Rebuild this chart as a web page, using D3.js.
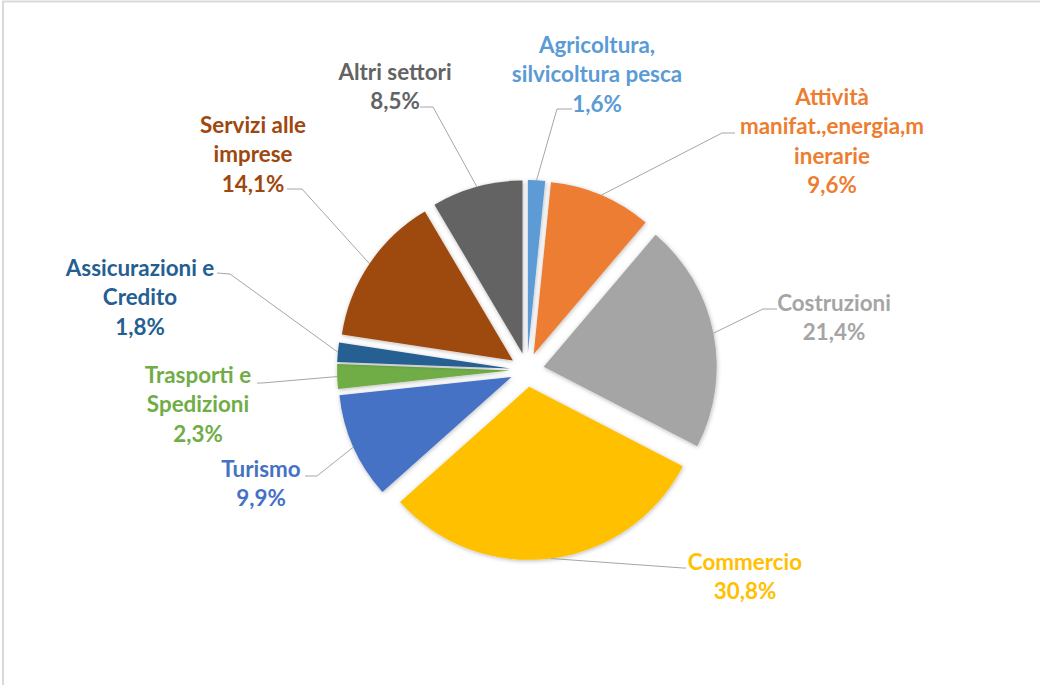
<!DOCTYPE html>
<html>
<head>
<meta charset="utf-8">
<script src="https://cdn.jsdelivr.net/npm/d3@7"></script>
<style>
  html, body { margin: 0; padding: 0; background: #fff; }
  svg { display: block; }
  text { font-family: "Liberation Sans Narrow", Lato, "Noto Sans", sans-serif; font-weight: 700; }
</style>
</head>
<body>
<svg id="chart" width="1040" height="685"></svg>
<script>
// ---- data ----
const categories = [
  "Agricoltura,\nsilvicoltura pesca",
  "Attività\nmanifat.,energia,m\ninerarie",
  "Costruzioni",
  "Commercio",
  "Turismo",
  "Trasporti e\nSpedizioni",
  "Assicurazioni e\nCredito",
  "Servizi alle\nimprese",
  "Altri settori"
];
const values = [1.6, 9.6, 21.4, 30.8, 9.9, 2.3, 1.8, 14.1, 8.5];
const colors = ["#5B9BD5", "#ED7D31", "#A5A5A5", "#FFC000", "#4472C4", "#70AD47", "#255E91", "#9E480E", "#636363"];

// ---- layout (label anchors: centre x, first line y; leader elbow; leader end) ----
const labelPos = [
  {x: 597, y: 45,  elbow: [557, 109], end: [572, 109]},
  {x: 832, y: 97,  elbow: [722, 133], end: [735, 133]},
  {x: 834, y: 303, elbow: [763, 309], end: [777, 309]},
  {x: 745, y: 562, elbow: [683, 568], end: [686, 568]},
  {x: 261, y: 469, elbow: [317, 476], end: [305, 476]},
  {x: 198, y: 375, elbow: [262, 383], end: [257, 383]},
  {x: 140, y: 268, elbow: [230, 274], end: [217, 273]},
  {x: 253, y: 125, elbow: [302, 189], end: [287, 189]},
  {x: 395, y: 72,  elbow: [433, 107], end: [420, 107]}
];

const cx = 527, cy = 370, R = 173, explode = 17, lineH = 29.5;

const svg = d3.select("#chart");

// frame
svg.append("rect").attr("x", 3).attr("y", 1.5).attr("width", 1200).attr("height", 900)
  .attr("fill", "none").attr("stroke", "#d9d9d9").attr("stroke-width", 2);

const defs = svg.append("defs");
const f = defs.append("filter").attr("id", "sh").attr("x", "-20%").attr("y", "-20%").attr("width", "140%").attr("height", "140%");
f.append("feDropShadow").attr("dx", 0.5).attr("dy", 1).attr("stdDeviation", 2)
  .attr("flood-color", "#000").attr("flood-opacity", 0.28);

const data = categories.map((c, i) => ({name: c, value: values[i], color: colors[i], pos: labelPos[i]}));
const pie = d3.pie().value(d => d.value).sort(null);
const arcs = pie(data);
const arc = d3.arc().innerRadius(0).outerRadius(R);

const dirOf = a => [Math.sin(a), -Math.cos(a)];

const g = svg.append("g").attr("transform", `translate(${cx},${cy})`);

g.selectAll("path.slice").data(arcs).enter().append("path")
  .attr("class", "slice")
  .attr("d", arc)
  .attr("fill", d => d.data.color)
  .attr("filter", "url(#sh)")
  .attr("transform", d => {
    const m = (d.startAngle + d.endAngle) / 2;
    const [dx, dy] = dirOf(m);
    return `translate(${dx * explode},${dy * explode})`;
  });

// leader lines
svg.selectAll("polyline.leader").data(arcs).enter().append("polyline")
  .attr("class", "leader")
  .attr("fill", "none").attr("stroke", "#a6a6a6").attr("stroke-width", 1)
  .attr("points", d => {
    const m = (d.startAngle + d.endAngle) / 2;
    const [dx, dy] = dirOf(m);
    const sx = cx + dx * (explode + R), sy = cy + dy * (explode + R);
    const p = d.data.pos;
    return [[sx, sy], p.elbow, p.end].map(q => q.join(",")).join(" ");
  });

// labels
const fmt = v => v.toFixed(1).replace(".", ",") + "%";
const lbl = svg.selectAll("text.lbl").data(arcs).enter().append("text")
  .attr("class", "lbl")
  .attr("text-anchor", "middle")
  .attr("fill", d => d.data.color)
  .style("font-size", "22.4px");

lbl.each(function(d) {
  const lines = d.data.name.split("\n").concat([fmt(d.data.value)]);
  const t = d3.select(this);
  lines.forEach((s, i) => {
    t.append("tspan").attr("x", d.data.pos.x).attr("y", d.data.pos.y + i * lineH)
      .attr("dy", "0.35em").text(s);
  });
});
</script>
</body>
</html>
